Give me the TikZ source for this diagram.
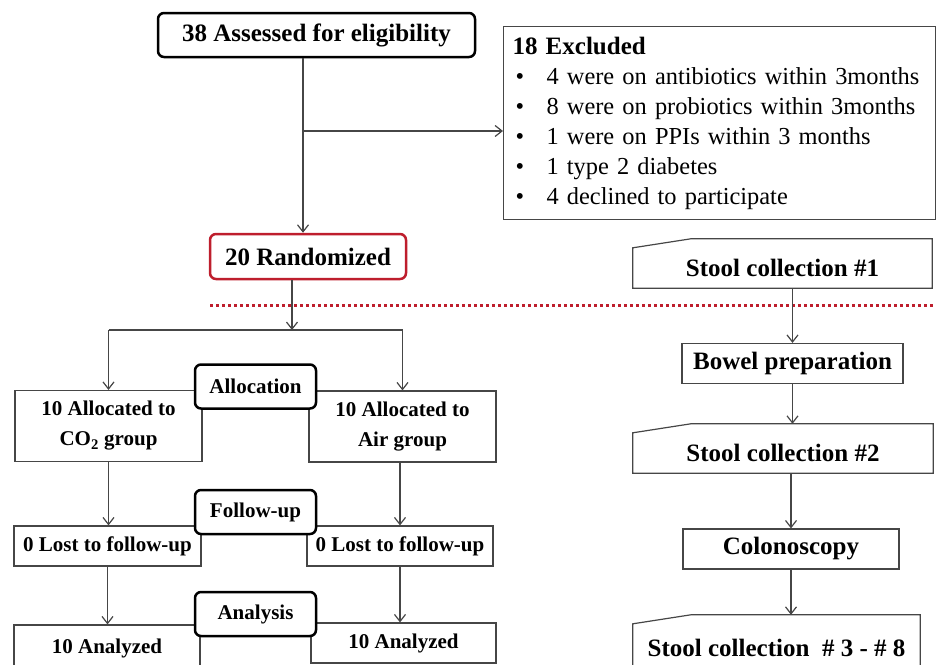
\documentclass[tikz,border=0pt]{standalone}
\usepackage{fontspec}
\setmainfont{Liberation Serif}
\usetikzlibrary{arrows.meta}

\definecolor{framegray}{RGB}{70,70,70}
\definecolor{randred}{RGB}{190,30,45}
\newcommand\bigfont{\fontsize{25}{30}\selectfont}
\newcommand\listfont{\fontsize{24.4}{30}\selectfont}
\newcommand\smallfont{\fontsize{21}{30}\selectfont}
\newcommand\bul{\makebox[34pt][l]{\hspace{3pt}\textbullet}}

\tikzset{
    box/.style={draw=framegray, line width=1.2pt, fill=white, align=center, inner sep=2pt, font=\smallfont\bfseries},
    bigbox/.style={box, font=\bigfont\bfseries},
    roundbox/.style={draw=black, line width=2.5pt, rounded corners=6pt, fill=white, inner sep=2pt, font=\bigfont\bfseries},
    stagebox/.style={roundbox, font=\smallfont\bfseries, minimum width=121pt, minimum height=44pt},
    stoolbox/.style={inner sep=2pt, font=\bigfont\bfseries},
    outline/.style={draw=framegray, line width=1.2pt},
    arr/.style={draw=framegray, line width=1.2pt, -{Straight Barb[length=7pt,width=11pt]}},
    reddot/.style={draw=randred, line width=3pt, dash pattern=on 3pt off 3pt}
}

\begin{document}
\begin{tikzpicture}[x=1pt, y=-1pt]
    \clip (0,0) rectangle (936,664);

% enrolment
    \node[roundbox, minimum width=317pt, minimum height=44pt] (assess) at (316.5,35) {38 Assessed for eligibility};
    \node[outline, anchor=north west, text width=414pt, minimum height=193pt, inner xsep=9pt, align=left, font=\listfont] (excl) at (503,26)
        {\textbf{\bigfont 18 Excluded}\\
         \mbox{\bul 4 were on antibiotics within 3months}\\
         \mbox{\bul 8 were on probiotics within 3months}\\
         \mbox{\bul 1 were on PPIs within 3 months}\\
         \mbox{\bul 1 type 2 diabetes}\\
         \mbox{\bul 4 declined to participate}};
    \node[roundbox, draw=randred, minimum width=196pt, minimum height=45pt] (rand) at (308,256.5) {20 Randomized};

    \coordinate (split) at (303,131);
    \draw[arr] (assess.south -| split) -- (rand.north -| split);
    \draw[arr] (split) -- (excl.west |- split);

% separation line
    \draw[reddot] (210,305) -- (936,305);

% two groups
    \node[box, minimum width=187pt, minimum height=71pt] (co2) at (108.5,426) {10 Allocated to\\CO\textsubscript{2} group};
    \node[box, minimum width=187pt, minimum height=71pt] (air) at (402.5,426.5) {10 Allocated to\\Air group};
    \node[box, minimum width=187pt, minimum height=40pt] (lostL) at (107.5,546) {0 Lost to follow-up};
    \node[box, minimum width=186pt, minimum height=40pt] (lostR) at (400,546) {0 Lost to follow-up};
    \node[box, minimum width=186pt, minimum height=46pt] (anaL) at (107,648) {10 Analyzed};
    \node[box, minimum width=185pt, minimum height=40pt] (anaR) at (403.5,643) {10 Analyzed};

    \coordinate (fork) at (292,330);
    \draw[arr] (rand.south -| fork) -- (fork);
    \draw[outline] (co2.north |- fork) -- (air.north |- fork);
    \draw[arr] (co2.north |- fork) -- (co2.north);
    \draw[arr] (air.north |- fork) -- (air.north);
    \draw[arr] (co2.south) -- (co2.south |- lostL.north);
    \draw[arr] (air.south -| lostR) -- (lostR.north);
    \draw[arr] (lostL.south) -- (lostL.south |- anaL.north);
    \draw[arr] (lostR.south) -- (lostR.south |- anaR.north);

% stages
    \node[stagebox] (alloc) at (255.5,386.5) {Allocation};
    \node[stagebox] (follow) at (255.5,512) {Follow-up};
    \node[stagebox] (analysis) at (255.5,614) {Analysis};

% stool sampling
    \node[stoolbox, minimum width=299pt, minimum height=40pt] (s1) at (782.5,268) {Stool collection \#1};
    \node[bigbox, minimum width=221pt, minimum height=40pt] (bowel) at (792.5,363.5) {Bowel preparation};
    \node[stoolbox, minimum width=300pt, minimum height=40pt] (s2) at (783,453) {Stool collection \#2};
    \node[bigbox, minimum width=216pt, minimum height=40pt] (colon) at (791,549) {Colonoscopy};
    \node[stoolbox, minimum width=287pt, minimum height=48pt] (s3) at (776.5,648) {Stool collection\ \ \# 3 - \# 8};

    \foreach \s in {s1,s2,s3}
        \draw[outline] (\s.south west) -- (\s.north west) -- ([xshift=58pt,yshift=9pt]\s.north west)
            -- ([yshift=9pt]\s.north east) -- (\s.south east) -- cycle;
    \coordinate (s2top) at ([yshift=9pt]s2.north);
    \coordinate (s3top) at ([yshift=9pt]s3.north);

    \draw[arr] (s1.south -| bowel) -- (bowel.north);
    \draw[arr] (bowel.south) -- (bowel.south |- s2top);
    \draw[arr] (s2.south -| colon) -- (colon.north);
    \draw[arr] (colon.south) -- (colon.south |- s3top);
\end{tikzpicture}
\end{document}
